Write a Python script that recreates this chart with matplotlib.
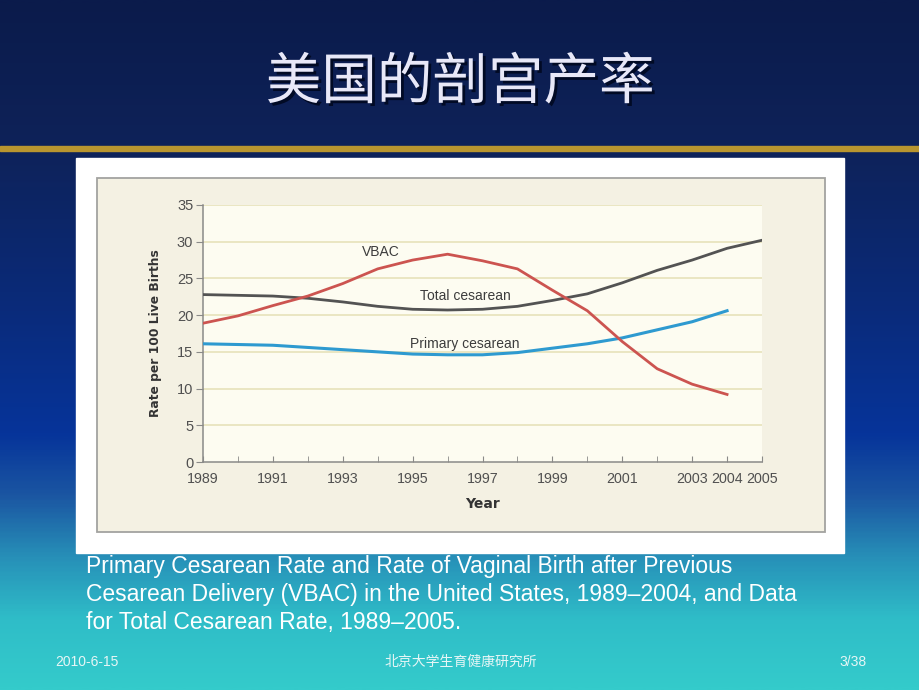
import matplotlib
matplotlib.use("Agg")
import matplotlib.pyplot as plt
import numpy as np
from matplotlib.colors import LinearSegmentedColormap
from matplotlib.patches import Rectangle
import matplotlib.patheffects as pe

# ---------------- data ----------------
years_total = [1989, 1990, 1991, 1992, 1993, 1994, 1995, 1996, 1997,
               1998, 1999, 2000, 2001, 2002, 2003, 2004, 2005]
total_cesarean = [22.8, 22.7, 22.6, 22.3, 21.8, 21.2, 20.8, 20.7, 20.8,
                  21.2, 22.0, 22.9, 24.4, 26.1, 27.5, 29.1, 30.2]
years_short = [1989, 1990, 1991, 1992, 1993, 1994, 1995, 1996, 1997,
               1998, 1999, 2000, 2001, 2002, 2003, 2004]
vbac = [18.9, 19.9, 21.3, 22.6, 24.3, 26.3, 27.5, 28.3, 27.4,
        26.3, 23.4, 20.6, 16.4, 12.7, 10.6, 9.2]
primary_cesarean = [16.1, 16.0, 15.9, 15.6, 15.3, 15.0, 14.7, 14.6, 14.6,
                    14.9, 15.5, 16.1, 16.9, 18.0, 19.1, 20.6]
xtick_labels = [1989, 1991, 1993, 1995, 1997, 1999, 2001, 2003, 2004, 2005]
yticks = [0, 5, 10, 15, 20, 25, 30, 35]

title = "美国的剖宫产率"
caption = ["Primary Cesarean Rate and Rate of Vaginal Birth after Previous",
           "Cesarean Delivery (VBAC) in the United States, 1989\u20132004, and Data",
           "for Total Cesarean Rate, 1989\u20132005."]
footer_left = "2010-6-15"
footer_mid = "北京大学生育健康研究所"
footer_right = "3/38"

# ---------------- fonts ----------------
chart_font = ["Liberation Sans", "DejaVu Sans"]
cjk = ["Noto Sans CJK SC", "DejaVu Sans"]
plt.rcParams['font.family'] = chart_font

W, H = 920, 690
fig = plt.figure(figsize=(9.2, 6.9), dpi=100)

# ---------------- background ----------------
bg = fig.add_axes([0, 0, 1, 1])
bg.set_xlim(0, W)
bg.set_ylim(H, 0)
bg.axis('off')
stops = [(0.0, "#0b1b4b"), (0.21, "#0e2259"), (0.45, "#0a2b7b"),
         (0.63, "#06349a"), (0.72, "#1b56a2"), (0.81, "#2790b8"),
         (0.90, "#2fbdc8"), (1.0, "#34cbcb")]
cmap = LinearSegmentedColormap.from_list("slide", stops)
grad = np.linspace(0, 1, 400).reshape(-1, 1)
bg.imshow(grad, cmap=cmap, aspect='auto', extent=[0, W, H, 0], zorder=0)
bg.add_patch(Rectangle((0, 146), W, 4.5, color="#b8952f", zorder=1))
# white picture box
bg.add_patch(Rectangle((76, 158), 768, 395, color="white", zorder=1))
# beige panel
bg.add_patch(Rectangle((97, 178), 728, 354, facecolor="#f4f1e3",
                       edgecolor="#a3a3a0", lw=1.3, zorder=2))

bg.text(460, 83, title, family=cjk, fontsize=40, color="#e8e8f8",
        ha='center', va='center', zorder=3,
        path_effects=[pe.withSimplePatchShadow(offset=(2, -2), shadow_rgbFace="#000820", alpha=0.9)])

for i, line in enumerate(caption):
    bg.text(86, 566 + i * 28.5, line, fontsize=16.5, color="white",
            ha='left', va='center', zorder=3, family=chart_font)

bg.text(55, 662, footer_left, fontsize=10, color="#e6f6f6", ha='left', va='center',
        family=chart_font)
bg.text(461, 662, footer_mid, fontsize=10, color="#e6f6f6", ha='center', va='center',
        family=cjk)
bg.text(853, 662, footer_right, fontsize=10, color="#e6f6f6", ha='center', va='center',
        family=chart_font)

# ---------------- chart ----------------
ax = fig.add_axes([203 / W, 1 - 462 / H, (762 - 203) / W, (462 - 205) / H])
ax.set_facecolor("#fdfcf1")
ax.set_xlim(1989, 2005)
ax.set_ylim(0, 35)
for yv in yticks[1:]:
    ax.axhline(yv, color="#e8e4bf", lw=1.3, zorder=1)

ax.plot(years_total, total_cesarean, color="#535353", lw=2.0, zorder=3)
ax.plot(years_short, vbac, color="#cc5450", lw=2.0, zorder=4)
ax.plot(years_short, primary_cesarean, color="#2e9ad0", lw=2.2, zorder=3)

ax.text(1994.1, 28.6, "VBAC", fontsize=10, color="#3c3c3c", ha='center', va='center')
ax.text(1996.5, 22.6, "Total cesarean", fontsize=10, color="#3c3c3c", ha='center', va='center')
ax.text(1996.5, 16.1, "Primary cesarean", fontsize=10, color="#3c3c3c", ha='center', va='center')

for s in ['top', 'right']:
    ax.spines[s].set_visible(False)
for s in ['left', 'bottom']:
    ax.spines[s].set_color("#8a8a88")
    ax.spines[s].set_linewidth(1.1)

ax.set_yticks(yticks)
ax.set_yticklabels([str(v) for v in yticks], fontsize=10.5, color="#505050")
ax.set_xticks(xtick_labels)
ax.set_xticklabels([str(v) for v in xtick_labels], fontsize=10.3, color="#505050")
ax.set_xticks(years_total, minor=True)
ax.tick_params(axis='y', direction='out', length=5, color="#8a8a88", pad=2)
ax.tick_params(axis='x', which='both', direction='in', length=4, color="#8a8a88", pad=7)

ax.set_xlabel("Year", fontsize=10, fontweight='bold', color="#333333", labelpad=8,
              family=["DejaVu Sans"])
ax.set_ylabel("Rate per 100 Live Births", fontsize=8.8, fontweight='bold', color="#333333",
              labelpad=11, family=["DejaVu Sans"])

fig.savefig("out.png", dpi=100)
